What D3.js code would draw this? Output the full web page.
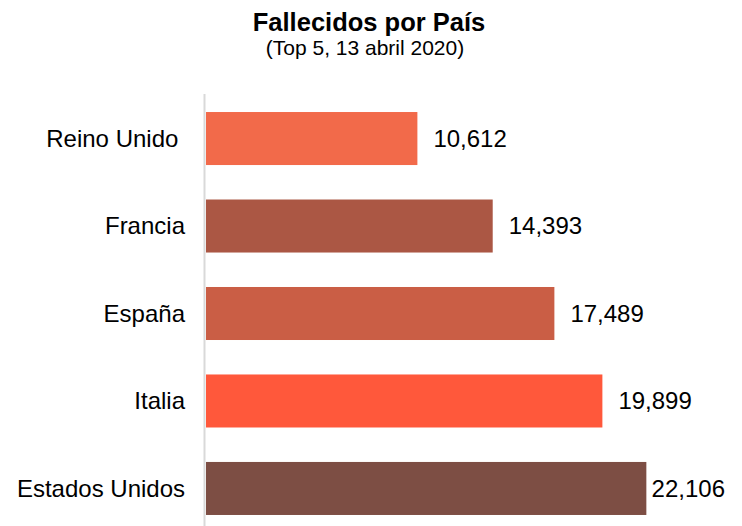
<!DOCTYPE html>
<html>
<head>
<meta charset="utf-8">
<script src="https://cdn.jsdelivr.net/npm/d3@7"></script>
<style>
  body { margin: 0; background: #fff; }
  svg text { font-family: "Liberation Sans", Arial, sans-serif; fill: #000; }
</style>
</head>
<body>
<div id="chart"></div>
<script>
// deaths by country, top 5 (13 April 2020)
var countries = ["Reino Unido", "Francia", "España", "Italia", "Estados Unidos"],
    deaths = [10612, 14393, 17489, 19899, 22106],
    barColors = ["#f26a4a", "#ab5744", "#ca5e45", "#ff583b", "#7d4e44"],
    titleText = "Fallecidos por País",
    subtitleText = "(Top 5, 13 abril 2020)";

var width = 742, height = 526,
    plotLeft = 206, plotTop = 94;

var rows = countries.map(function(c, i){
  return {name: c, value: deaths[i], color: barColors[i]};
});

var svg = d3.select("#chart").append("svg")
    .attr("width", width)
    .attr("height", height);

var xScale = d3.scaleLinear().domain([0, 25000]).range([plotLeft, plotLeft + 498]);
var yScale = d3.scaleBand()
    .domain(countries)
    .range([plotTop, 533])
    .paddingInner(0.394)
    .paddingOuter(0.206);

// title
svg.append("text")
    .attr("x", 369).attr("y", 31)
    .attr("text-anchor", "middle")
    .style("font-size", "25.5px")
    .style("font-weight", "bold")
    .text(titleText);
svg.append("text")
    .attr("x", 365).attr("y", 55)
    .attr("text-anchor", "middle")
    .style("font-size", "21px")
    .text(subtitleText);

// bars
svg.selectAll("rect.bar")
    .data(rows)
    .join("rect")
    .attr("class", "bar")
    .attr("x", xScale(0))
    .attr("y", d => yScale(d.name))
    .attr("width", d => xScale(d.value) - xScale(0))
    .attr("height", yScale.bandwidth())
    .attr("fill", d => d.color);

// vertical axis line
svg.append("line")
    .attr("x1", plotLeft - 1.5).attr("x2", plotLeft - 1.5)
    .attr("y1", plotTop).attr("y2", height)
    .style("stroke", "#d9d9d9")
    .style("stroke-width", 2);

// category labels
svg.selectAll("text.cat")
    .data(rows)
    .join("text")
    .attr("class", "cat")
    .attr("x", 185)
    .attr("y", d => yScale(d.name) + yScale.bandwidth() / 2)
    .attr("dy", "0.35em")
    .attr("text-anchor", "end")
    .style("font-size", "24px")
    .style("white-space", "pre")
    .text(d => d.name === "Reino Unido" ? d.name + " " : d.name);

// value labels, kept inside the frame
var fmt = d3.format(",");
svg.selectAll("text.val")
    .data(rows)
    .join("text")
    .attr("class", "val")
    .attr("y", d => yScale(d.name) + yScale.bandwidth() / 2)
    .attr("dy", "0.35em")
    .style("font-size", "24px")
    .text(d => fmt(d.value))
    .attr("x", function(d){
      var w = this.getComputedTextLength();
      return Math.min(xScale(d.value) + 16, 725 - w);
    });
</script>
</body>
</html>
